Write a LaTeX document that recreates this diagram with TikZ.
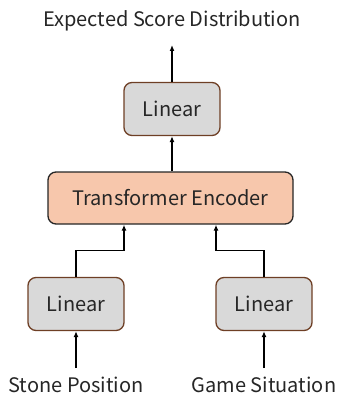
\documentclass[tikz,border=0pt]{standalone}
\usepackage{fontspec}
\setmainfont{Noto Sans CJK JP}
\usetikzlibrary{arrows.meta}
\definecolor{boxgray}{HTML}{D9D9D9}
\definecolor{boxbrown}{HTML}{6E3F25}
\definecolor{encfill}{HTML}{F7C7AC}
\definecolor{txt}{HTML}{262626}
\tikzset{
  linbox/.style={draw=boxbrown, fill=boxgray, line width=1.3pt, rounded corners=8pt,
    minimum width=96pt, minimum height=53pt, inner sep=0pt, font=\fontsize{20}{24}\selectfont, text=txt},
  encbox/.style={draw=black!85, fill=encfill, line width=1.3pt, rounded corners=8pt,
    minimum width=245pt, minimum height=52pt, inner sep=0pt, font=\fontsize{20}{24}\selectfont, text=txt},
  lbl/.style={inner sep=0pt, font=\fontsize{20}{24}\selectfont, text=txt},
  conn/.style={line width=1.2pt, -{Latex[length=6pt,width=5pt]}}
}
\begin{document}
\begin{tikzpicture}[x=1pt,y=-1pt]
\useasboundingbox (0,0) rectangle (337,398);
\node[lbl] (out) at (172,21) {Expected Score Distribution};
\node[linbox] (top) at (172,109) {Linear};
\node[encbox] (enc) at (170.5,198) {Transformer Encoder};
\node[linbox] (l1) at (76,304) {Linear};
\node[linbox] (l2) at (264,304) {Linear};
\node[lbl] (in1) at (76,385) {Stone Position};
\node[lbl] (in2) at (264,385) {Game Situation};
\coordinate (outtip) at (172,45);
\coordinate (in1s) at (76,368);
\coordinate (in2s) at (264,368);
\draw[conn] (top.north) -- (outtip);
\draw[conn] (enc.north -| top.south) -- (top.south);
\draw[conn] (l1.north) -- ++(0,-26) -| ([xshift=-46.5pt]enc.south);
\draw[conn] (l2.north) -- ++(0,-26) -| ([xshift=45.5pt]enc.south);
\draw[conn] (in1s) -- (l1.south);
\draw[conn] (in2s) -- (l2.south);
\end{tikzpicture}
\end{document}
